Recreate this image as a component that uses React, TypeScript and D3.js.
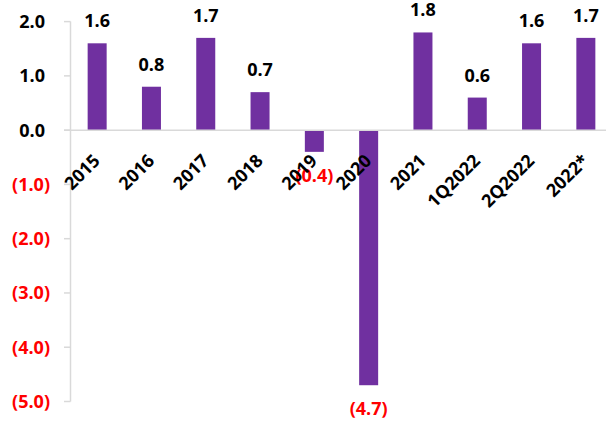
import React from "react";
import * as d3 from "d3";

const categories = ["2015", "2016", "2017", "2018", "2019", "2020", "2021", "1Q2022", "2Q2022", "2022*"];
const values = [1.6, 0.8, 1.7, 0.7, -0.4, -4.7, 1.8, 0.6, 1.6, 1.7];
const yTicks = [2, 1, 0, -1, -2, -3, -4, -5];

const W = 606;
const H = 425;
const FONT = "'Open Sans', Lato, sans-serif";
const PURPLE = "#7030A0";
const RED = "#FF0000";
const AXIS = "#d9d9d9";

const fmt = (v: number) => (v < 0 ? `(${Math.abs(v).toFixed(1)})` : v.toFixed(1));

export default function App() {
  const x = d3.scaleBand<string>().domain(categories).range([70, 613]).paddingInner(0.65).paddingOuter(0.325);
  const y = d3.scaleLinear().domain([-5, 2]).range([401.5, 21.6]);
  const y0 = y(0);

  return (
    <svg width={W} height={H} style={{ position: "absolute", left: 0, top: 0, background: "#fff" }} fontFamily={FONT} fontWeight={700}>
      {/* axis */}
      <line x1={70.5} x2={70.5} y1={y(2)} y2={y(-5)} stroke={AXIS} strokeWidth={1.5} />
      {yTicks.map((t) => (
        <g key={t}>
          <line x1={64} x2={70.5} y1={y(t)} y2={y(t)} stroke={AXIS} strokeWidth={1.5} />
          <text x={t < 0 ? 50 : 45} y={y(t)} dy="0.36em" textAnchor="end" fontSize={18} fill={t < 0 ? RED : "#000"}>
            {fmt(t)}
          </text>
        </g>
      ))}
      {/* bars */}
      {categories.map((c, i) => {
        const v = values[i];
        const bx = x(c)!;
        return (
          <rect key={c} x={bx} width={x.bandwidth()} y={Math.min(y(v), y0)} height={Math.abs(y(v) - y0)} fill={PURPLE} />
        );
      })}
      <line x1={64} x2={613} y1={y0} y2={y0} stroke={AXIS} strokeWidth={1.5} />
      {/* value labels */}
      {categories.map((c, i) => {
        const v = values[i];
        const cx = x(c)! + x.bandwidth() / 2;
        return (
          <text key={c} x={cx} y={v >= 0 ? y(v) - 16 : y(v) + 30} textAnchor="middle" fontSize={18} fill={v < 0 ? RED : "#000"}>
            {fmt(v)}
          </text>
        );
      })}
      {/* category labels */}
      {categories.map((c) => {
        const cx = x(c)! + x.bandwidth() / 2;
        return (
          <text key={c} transform={`translate(${cx + 4},${162}) rotate(-45)`} textAnchor="end" fontSize={18} fill="#000">
            {c}
          </text>
        );
      })}
    </svg>
  );
}
